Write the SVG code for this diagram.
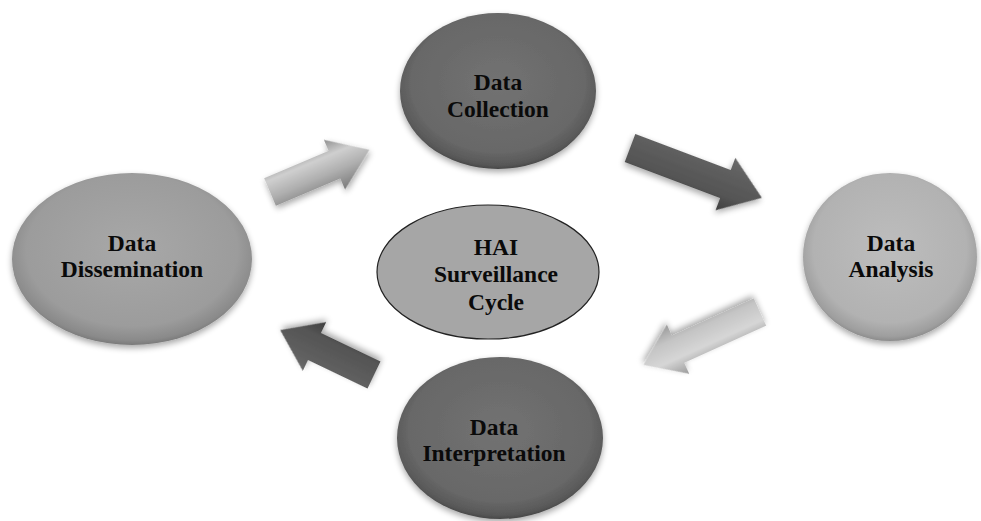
<svg xmlns="http://www.w3.org/2000/svg" width="981" height="521" viewBox="0 0 981 521">
  <style>
    .lbl { font-family: "Liberation Serif", "Times New Roman", serif; font-weight: bold; font-size: 23.5px; fill: #0a0a0a; text-anchor: middle; }
  </style>
  <defs>
    <radialGradient id="gDark" cx="50%" cy="45%" r="55%">
      <stop offset="0" stop-color="#727272"/>
      <stop offset="0.8" stop-color="#686868"/>
      <stop offset="0.95" stop-color="#585858"/>
      <stop offset="1" stop-color="#484848"/>
    </radialGradient>
    <radialGradient id="gMid" cx="50%" cy="45%" r="55%">
      <stop offset="0" stop-color="#a8a8a8"/>
      <stop offset="0.8" stop-color="#9c9c9c"/>
      <stop offset="0.95" stop-color="#8a8a8a"/>
      <stop offset="1" stop-color="#7a7a7a"/>
    </radialGradient>
    <radialGradient id="gLight" cx="50%" cy="45%" r="55%">
      <stop offset="0" stop-color="#bdbdbd"/>
      <stop offset="0.8" stop-color="#b2b2b2"/>
      <stop offset="0.95" stop-color="#9e9e9e"/>
      <stop offset="1" stop-color="#8c8c8c"/>
    </radialGradient>
    <linearGradient id="aLight" x1="0" y1="0" x2="0" y2="1">
      <stop offset="0" stop-color="#8f8f8f"/>
      <stop offset="0.3" stop-color="#cfcfcf"/>
      <stop offset="0.6" stop-color="#b0b0b0"/>
      <stop offset="1" stop-color="#7a7a7a"/>
    </linearGradient>
    <linearGradient id="aLight2" x1="0" y1="0" x2="0" y2="1">
      <stop offset="0" stop-color="#9a9a9a"/>
      <stop offset="0.35" stop-color="#d6d6d6"/>
      <stop offset="0.7" stop-color="#c4c4c4"/>
      <stop offset="1" stop-color="#9a9a9a"/>
    </linearGradient>
    <linearGradient id="aDark" x1="0" y1="0" x2="0" y2="1">
      <stop offset="0" stop-color="#6a6a6a"/>
      <stop offset="0.3" stop-color="#5e5e5e"/>
      <stop offset="0.7" stop-color="#555555"/>
      <stop offset="1" stop-color="#3e3e3e"/>
    </linearGradient>
    <filter id="sh" x="-20%" y="-20%" width="140%" height="150%">
      <feGaussianBlur in="SourceAlpha" stdDeviation="3"/>
      <feOffset dx="0" dy="3" result="b"/>
      <feComponentTransfer><feFuncA type="linear" slope="0.35"/></feComponentTransfer>
      <feMerge><feMergeNode/><feMergeNode in="SourceGraphic"/></feMerge>
    </filter>
  </defs>
  <rect width="981" height="521" fill="#ffffff"/>

  <g id="connectors">
    <polygon filter="url(#sh)" fill="url(#aLight)" points="0,-15 70,-15 70,-27 108,0 70,27 70,15 0,15" transform="translate(270,192) rotate(-23)"/>
    <polygon filter="url(#sh)" fill="url(#aDark)" points="0,-15 102,-15 102,-28 141,0 102,28 102,15 0,15" transform="translate(630,148) rotate(20.7)"/>
    <polygon filter="url(#sh)" fill="url(#aLight2)" points="0,-15 90,-15 90,-27 128,0 90,27 90,15 0,15" transform="translate(760,312) rotate(155.6)"/>
    <polygon filter="url(#sh)" fill="url(#aDark)" points="0,-15 66,-15 66,-27 104,0 66,27 66,15 0,15" transform="translate(374,375) rotate(205.6)"/>
  </g>

  <g id="collection">
    <ellipse cx="498" cy="91" rx="98" ry="78" fill="url(#gDark)" filter="url(#sh)"/>
    <text class="lbl" x="498" y="90">Data</text>
    <text class="lbl" x="498" y="117">Collection</text>
  </g>
  <g id="dissemination">
    <ellipse cx="132" cy="259" rx="120" ry="86" fill="url(#gMid)" filter="url(#sh)"/>
    <text class="lbl" x="132" y="251">Data</text>
    <text class="lbl" x="132" y="277">Dissemination</text>
  </g>
  <g id="hai">
    <ellipse cx="488" cy="272" rx="111" ry="67" fill="#a6a6a6" stroke="#222" stroke-width="1.2"/>
    <text class="lbl" x="496" y="255">HAI</text>
    <text class="lbl" x="496" y="282">Surveillance</text>
    <text class="lbl" x="496" y="310">Cycle</text>
  </g>
  <g id="analysis">
    <ellipse cx="890" cy="257" rx="87" ry="84" fill="url(#gLight)" filter="url(#sh)"/>
    <text class="lbl" x="891" y="251">Data</text>
    <text class="lbl" x="891" y="277">Analysis</text>
  </g>
  <g id="interpretation">
    <ellipse cx="500" cy="438" rx="103" ry="81" fill="url(#gDark)" filter="url(#sh)"/>
    <text class="lbl" x="494" y="435">Data</text>
    <text class="lbl" x="494" y="461">Interpretation</text>
  </g>
</svg>
